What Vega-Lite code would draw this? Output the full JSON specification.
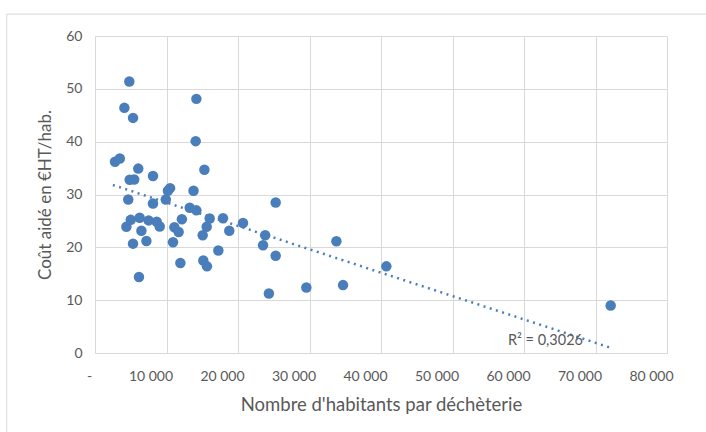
{
  "$schema": "https://vega.github.io/schema/vega-lite/v6.json",
  "width": 572,
  "height": 317,
  "autosize": {"type": "none"},
  "padding": {"left": 95, "top": 36, "right": 39, "bottom": 79},
  "background": "white",
  "config": {
    "view": {"stroke": null},
    "font": "Lato",
    "axis": {
      "labelFont": "Lato",
      "labelFontSize": 14,
      "labelColor": "#595959",
      "titleFont": "Lato",
      "titleFontSize": 17.5,
      "titleFontWeight": "normal",
      "titleColor": "#595959",
      "gridColor": "#d9d9d9",
      "gridWidth": 1,
      "domainColor": "#d9d9d9",
      "ticks": false
    }
  },
  "datasets": {
    "frame": [
      {"x": -12350, "x2": 90000, "y": 64.15, "y2": 64.15},
      {"x": -12350, "x2": -12350, "y": -20, "y2": 64.15}
    ],
    "points": [
      {"x": 4800, "y": 51.4}, {"x": 14180, "y": 48.1}, {"x": 4110, "y": 46.4}, {"x": 5320, "y": 44.5},
      {"x": 14080, "y": 40.1}, {"x": 2800, "y": 36.2}, {"x": 3470, "y": 36.8}, {"x": 6050, "y": 34.9},
      {"x": 15300, "y": 34.7}, {"x": 4850, "y": 32.8}, {"x": 5480, "y": 32.85}, {"x": 8110, "y": 33.5},
      {"x": 10500, "y": 31.2}, {"x": 10200, "y": 30.7}, {"x": 13780, "y": 30.7}, {"x": 4650, "y": 29.05},
      {"x": 8110, "y": 28.3}, {"x": 9900, "y": 29.05}, {"x": 13250, "y": 27.5}, {"x": 14180, "y": 27.0},
      {"x": 25270, "y": 28.5}, {"x": 5000, "y": 25.2}, {"x": 6250, "y": 25.6}, {"x": 7500, "y": 25.1},
      {"x": 8630, "y": 24.85}, {"x": 4390, "y": 23.9}, {"x": 9050, "y": 23.95}, {"x": 6490, "y": 23.15},
      {"x": 5315, "y": 20.7}, {"x": 7190, "y": 21.2}, {"x": 6150, "y": 14.4}, {"x": 12150, "y": 25.3},
      {"x": 11100, "y": 23.8}, {"x": 11700, "y": 22.9}, {"x": 10910, "y": 20.95}, {"x": 11940, "y": 17.05},
      {"x": 16040, "y": 25.45}, {"x": 15620, "y": 23.9}, {"x": 15060, "y": 22.3}, {"x": 17900, "y": 25.5},
      {"x": 18780, "y": 23.15}, {"x": 17250, "y": 19.4}, {"x": 15150, "y": 17.5}, {"x": 15660, "y": 16.4},
      {"x": 20700, "y": 24.6}, {"x": 23800, "y": 22.3}, {"x": 23500, "y": 20.4}, {"x": 25270, "y": 18.4},
      {"x": 24320, "y": 11.25}, {"x": 33760, "y": 21.15}, {"x": 40750, "y": 16.4}, {"x": 29560, "y": 12.4},
      {"x": 34690, "y": 12.85}, {"x": 72120, "y": 9.0}
    ],
    "trend": [
      {"x": 2500, "y": 31.8},
      {"x": 72100, "y": 1.0}
    ],
    "r2": [
      {"x": 63000, "y": 2.3, "label": "R² = 0,3026"}
    ]
  },
  "encoding": {
    "x": {
      "field": "x",
      "type": "quantitative",
      "scale": {"domain": [0, 80000], "nice": false, "zero": false},
      "axis": {
        "values": [0, 10000, 20000, 30000, 40000, 50000, 60000, 70000, 80000],
        "labelExpr": "datum.value == 0 ? '-' : replace(format(datum.value, ','), ',', ' ')",
        "labelOffset": {"condition": {"test": "datum.value == 0", "value": -6}, "value": -16},
        "labelFlush": false,
        "labelPadding": 16,
        "title": "Nombre d'habitants par déchèterie",
        "titleFontSize": 18.5,
        "titlePadding": 12,
        "grid": true
      }
    },
    "y": {
      "field": "y",
      "type": "quantitative",
      "scale": {"domain": [0, 60], "nice": false, "zero": false},
      "axis": {
        "values": [0, 10, 20, 30, 40, 50, 60],
        "labelPadding": 13,
        "title": "Coût aidé en €HT/hab.",
        "titleFontSize": 17,
        "titlePadding": 11,
        "grid": true
      }
    }
  },
  "layer": [
    {
      "data": {"name": "frame"},
      "mark": {"type": "rule", "color": "#d9d9d9", "strokeWidth": 1, "clip": false},
      "encoding": {
        "x2": {"field": "x2"},
        "y2": {"field": "y2"}
      }
    },
    {
      "data": {"name": "points"},
      "mark": {"type": "circle", "size": 110, "opacity": 1, "color": "#4a7ebb"}
    },
    {
      "data": {"name": "trend"},
      "mark": {"type": "line", "color": "#4a7ebb", "strokeWidth": 2.5, "strokeDash": [2, 4.5]},
      "encoding": {}
    },
    {
      "data": {"name": "r2"},
      "mark": {"type": "text", "font": "Lato", "fontSize": 14.5, "color": "#595959", "align": "center", "baseline": "middle"},
      "encoding": {
        "text": {"field": "label"}
      }
    }
  ]
}
